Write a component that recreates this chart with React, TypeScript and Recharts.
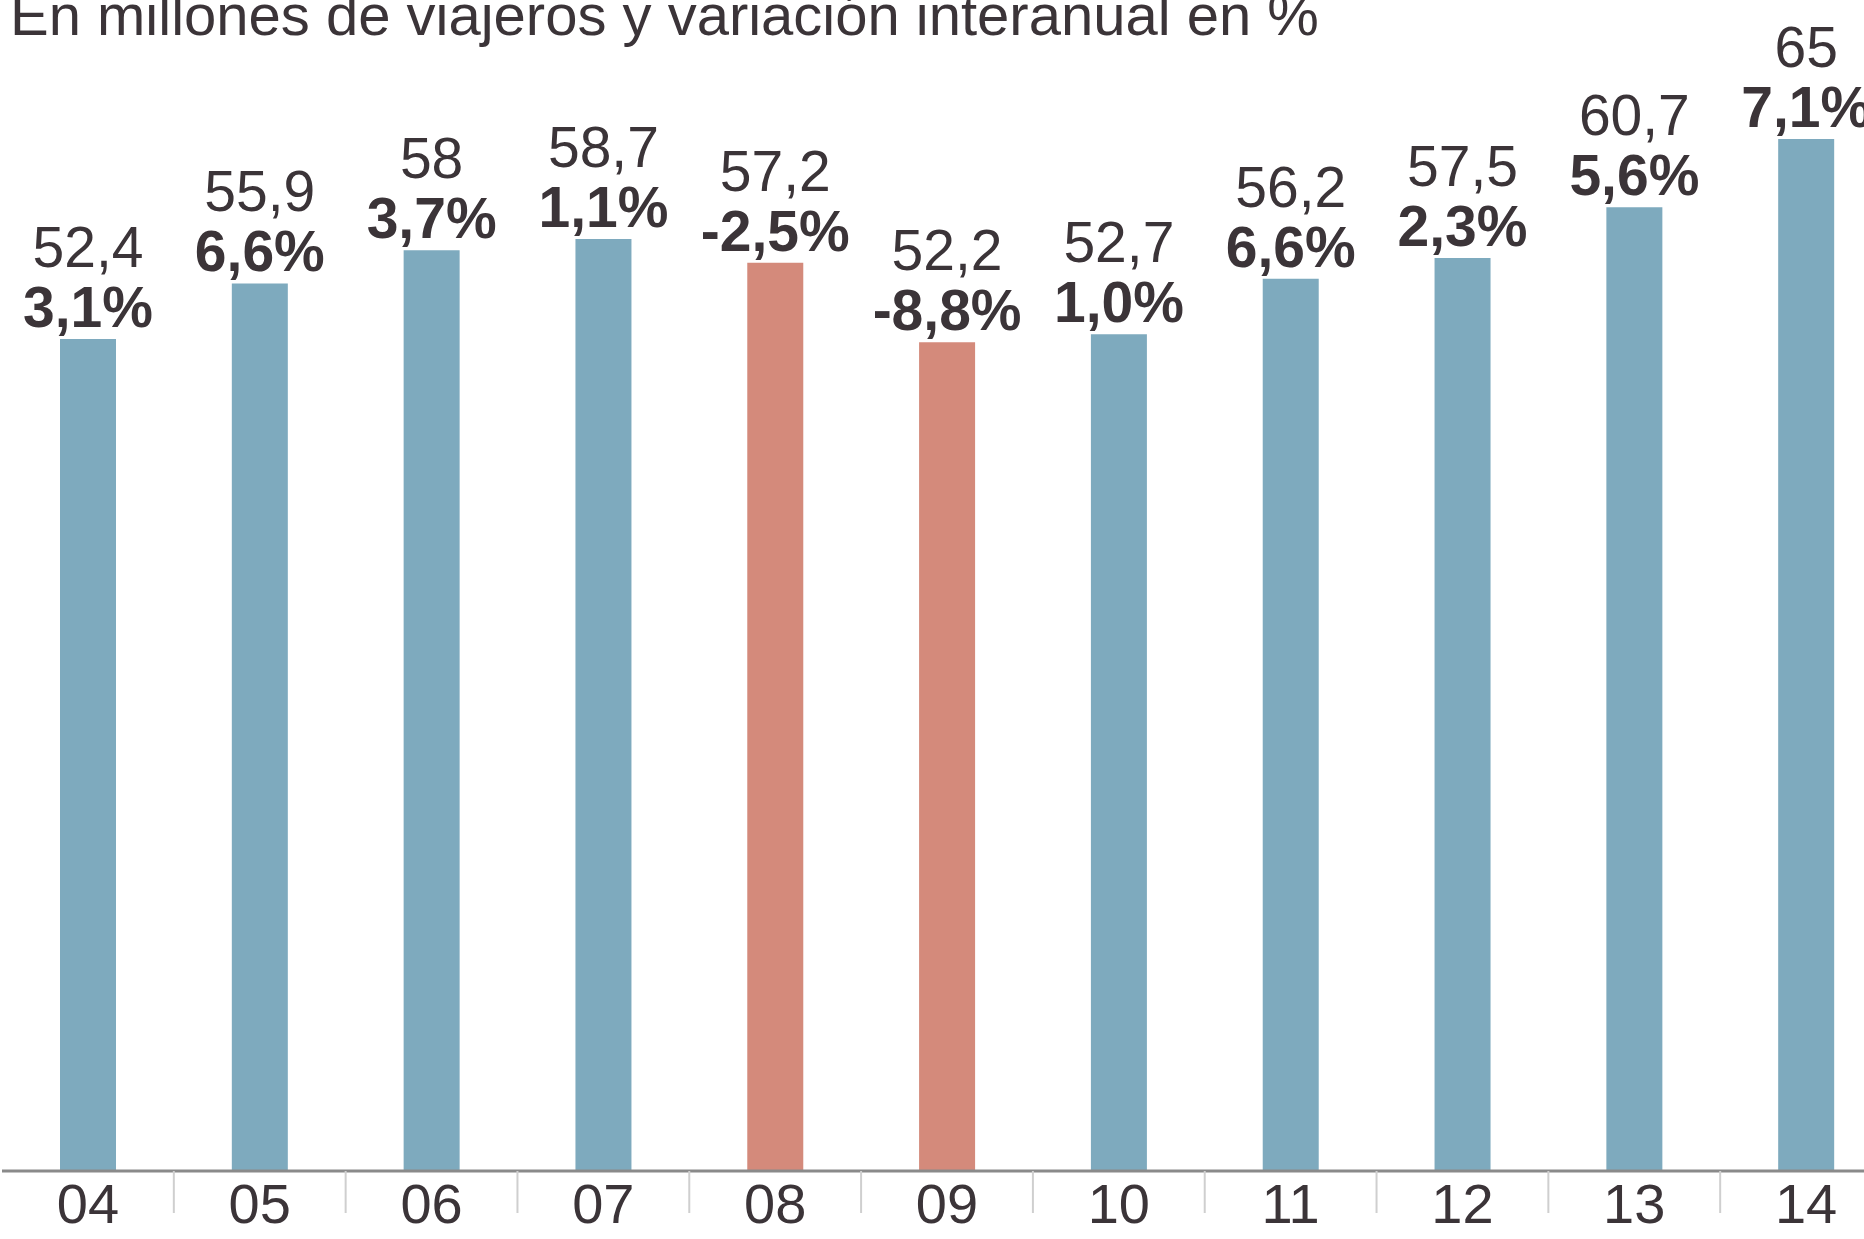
import React from "react";
import { BarChart, Bar, XAxis, YAxis, Cell, LabelList } from "recharts";

const years = ["04", "05", "06", "07", "08", "09", "10", "11", "12", "13", "14"];
const viajeros = [52.4, 55.9, 58, 58.7, 57.2, 52.2, 52.7, 56.2, 57.5, 60.7, 65];
const variacion = ["3,1%", "6,6%", "3,7%", "1,1%", "-2,5%", "-8,8%", "1,0%", "6,6%", "2,3%", "5,6%", "7,1%"];
const valueLabels = ["52,4", "55,9", "58", "58,7", "57,2", "52,2", "52,7", "56,2", "57,5", "60,7", "65"];
const title = "En millones de viajeros y variación interanual en %";

const data = years.map((y, i) => ({
  year: y,
  value: viajeros[i],
  pct: variacion[i],
  label: valueLabels[i],
}));

const BLUE = "#7eaabe";
const RED = "#d48a7b";
const TEXT = "#3b3438";
const FONT = "'Liberation Sans', Arial, sans-serif";

const CHART_W = 1894;
const CHART_H = 1239;
const MARGIN = { top: 139, right: 2, left: 2, bottom: 0 };
const BAND = (CHART_W - MARGIN.left - MARGIN.right) / years.length;

const renderLabels = (props: any) => {
  const { x, y, width, index } = props;
  const cx = x + width / 2;
  return (
    <g>
      <text x={cx} y={y - 72} textAnchor="middle" fontFamily={FONT} fontSize={57} fill={TEXT}>
        {valueLabels[index]}
      </text>
      <text x={cx} y={y - 12} textAnchor="middle" fontFamily={FONT} fontSize={57} fontWeight="bold" fill={TEXT}>
        {variacion[index]}
      </text>
    </g>
  );
};

const renderTick = (props: any) => {
  const { x, y, payload, index } = props;
  return (
    <g>
      {index > 0 && (
        <line x1={x - BAND / 2} x2={x - BAND / 2} y1={y} y2={y + 42} stroke="#cfcfcf" strokeWidth={2} />
      )}
      <text x={x} y={y + 52} textAnchor="middle" fontFamily={FONT} fontSize={56} fill={TEXT}>
        {payload.value}
      </text>
    </g>
  );
};

export default function App() {
  return (
    <div style={{ position: "absolute", left: 0, top: 0, width: 1864, height: 1239, overflow: "hidden", background: "#fff" }}>
      <svg width={1864} height={60} style={{ position: "absolute", left: 0, top: 0, zIndex: 2 }}>
        <text x={10} y={35} fontFamily={FONT} fontSize={58} fill={TEXT}>
          {title}
        </text>
      </svg>
      <BarChart width={CHART_W} height={CHART_H} data={data} margin={MARGIN} barCategoryGap={0}>
        <YAxis hide domain={[0, 65]} />
        <XAxis
          dataKey="year"
          height={68}
          axisLine={{ stroke: "#8a8a8a", strokeWidth: 3 }}
          tickLine={false}
          tickSize={0}
          tickMargin={0}
          interval={0}
          tick={renderTick}
        />
        <Bar dataKey="value" barSize={56} isAnimationActive={false}>
          {data.map((d, i) => (
            <Cell key={i} fill={variacion[i].startsWith("-") ? RED : BLUE} />
          ))}
          <LabelList dataKey="value" content={renderLabels} />
        </Bar>
      </BarChart>
    </div>
  );
}
